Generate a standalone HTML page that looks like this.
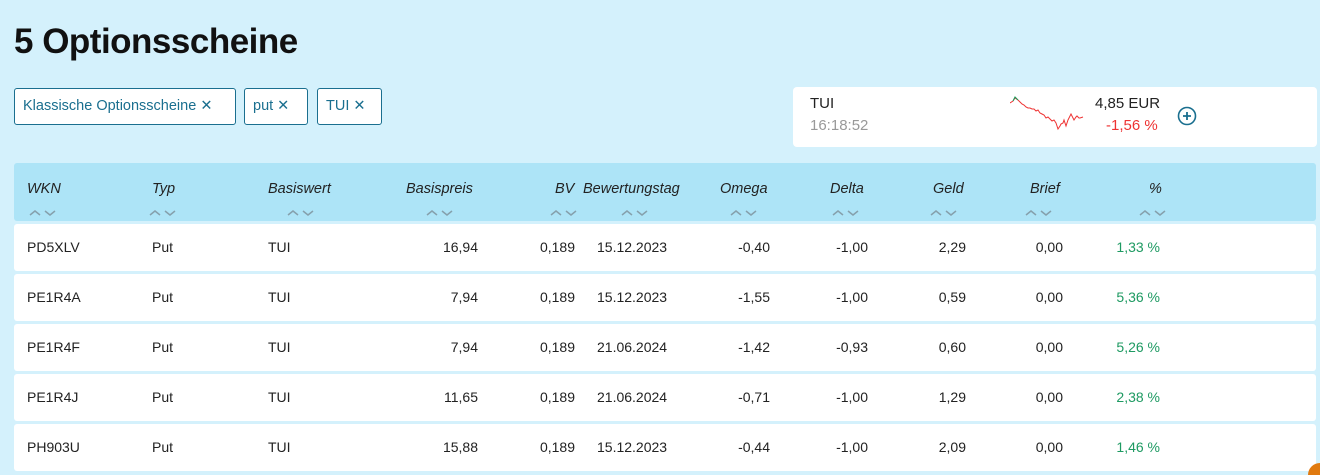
<!DOCTYPE html>
<html><head><meta charset="utf-8"><style>
*{margin:0;padding:0;box-sizing:border-box}
html,body{width:1320px;height:475px;overflow:hidden}
body{background:#d4f1fc;font-family:"Liberation Sans",sans-serif;position:relative;color:#222}
.a{position:absolute;white-space:nowrap}
h1{position:absolute;left:14px;top:22px;font-size:35px;font-weight:bold;color:#111;letter-spacing:-0.5px}
.chip{position:absolute;top:88px;height:37px;border:1px solid #1a6f8f;border-radius:3px;background:#fff;color:#1a6f8f;font-size:14.5px;line-height:35px;padding-left:8px}
.card{position:absolute;left:793px;top:87px;width:524px;height:60px;background:#fff;border-radius:4px}
.hdr{position:absolute;left:14px;top:163px;width:1302px;height:58px;background:#ade4f7;border-radius:3px}
.row{position:absolute;left:14px;width:1302px;height:47px;background:#fff;border-radius:3px}
.h{font-style:italic;font-size:14.5px;top:181px;color:#222}
.c{font-size:14px;color:#222}
.g{color:#1e9a62}
</style></head><body>
<h1>5 Optionsscheine</h1>
<div class="chip" style="left:14px;width:222px">Klassische Optionsscheine ✕</div>
<div class="chip" style="left:244px;width:64px">put ✕</div>
<div class="chip" style="left:317px;width:65px">TUI ✕</div>
<div class="card"></div>
<div class="a" style="left:810px;top:95px;font-size:15px">TUI</div>
<div class="a" style="left:810px;top:117px;font-size:15px;color:#999">16:18:52</div>
<svg class="a" style="left:1010px;top:96px" width="75" height="36" viewBox="0 0 75 36"><polyline points="0,7 3,5 5,2 8,4 10,6 12,8 14,9 16,11 18,12 20,12 22,13 24,13 26,15 28,14 30,17 32,18 34,19 36,22 38,21 40,23 42,25 44,24 46,27 48,33 50,30 51,28 53,27 54,24 56,30 58,24 60,20 61,18 63,22 64,24 66,21 67,20 69,22 70,22 73,21" fill="none" stroke="#e33" stroke-width="1"/><polyline points="3,5 5,1 8,4" fill="none" stroke="#1a9a5a" stroke-width="1"/></svg>
<div class="a" style="left:1095px;top:95px;font-size:15px">4,85 EUR</div>
<div class="a" style="left:1106px;top:117px;font-size:15px;color:#e33">-1,56 %</div>
<svg class="a" style="left:1177px;top:106px" width="20" height="20"><circle cx="10" cy="10" r="8.5" fill="none" stroke="#1a6f8f" stroke-width="1.6"/><path d="M10 6v8M6 10h8" stroke="#1a6f8f" stroke-width="1.8"/></svg>
<div class="hdr"></div>
<div class="a h" style="left:27px">WKN</div>
<div class="a h" style="left:152px">Typ</div>
<div class="a h" style="left:268px">Basiswert</div>
<div class="a h" style="left:406px">Basispreis</div>
<div class="a h" style="left:555px">BV</div>
<div class="a h" style="left:583px">Bewertungstag</div>
<div class="a h" style="left:720px">Omega</div>
<div class="a h" style="left:830px">Delta</div>
<div class="a h" style="left:933px">Geld</div>
<div class="a h" style="left:1030px">Brief</div>
<div class="a h" style="left:1149px">%</div>
<svg class="a" style="left:0;top:206px" width="1320" height="12" fill="none" stroke="#85a0ac" stroke-width="1.5">
<g id="ar"><path d="M30 9l5-4 5 4M45 5l5 4 5-4"/></g>
<use href="#ar" x="120"/><use href="#ar" x="258"/><use href="#ar" x="397"/><use href="#ar" x="521"/><use href="#ar" x="592"/><use href="#ar" x="701"/><use href="#ar" x="803"/><use href="#ar" x="901"/><use href="#ar" x="996"/><use href="#ar" x="1110"/>
</svg>
<div class="row" style="top:224px"></div>
<div class="row" style="top:274px"></div>
<div class="row" style="top:324px"></div>
<div class="row" style="top:374px"></div>
<div class="row" style="top:424px"></div>
<div class="a c" style="left:27px;top:239px">PD5XLV</div><div class="a c" style="left:152px;top:239px">Put</div><div class="a c" style="left:268px;top:239px">TUI</div><div class="a c" style="right:842px;top:239px">16,94</div><div class="a c" style="right:745px;top:239px">0,189</div><div class="a c" style="left:597px;top:239px">15.12.2023</div><div class="a c" style="right:550px;top:239px">-0,40</div><div class="a c" style="right:452px;top:239px">-1,00</div><div class="a c" style="right:354px;top:239px">2,29</div><div class="a c" style="right:257px;top:239px">0,00</div><div class="a c g" style="right:160px;top:239px">1,33 %</div>
<div class="a c" style="left:27px;top:289px">PE1R4A</div><div class="a c" style="left:152px;top:289px">Put</div><div class="a c" style="left:268px;top:289px">TUI</div><div class="a c" style="right:842px;top:289px">7,94</div><div class="a c" style="right:745px;top:289px">0,189</div><div class="a c" style="left:597px;top:289px">15.12.2023</div><div class="a c" style="right:550px;top:289px">-1,55</div><div class="a c" style="right:452px;top:289px">-1,00</div><div class="a c" style="right:354px;top:289px">0,59</div><div class="a c" style="right:257px;top:289px">0,00</div><div class="a c g" style="right:160px;top:289px">5,36 %</div>
<div class="a c" style="left:27px;top:339px">PE1R4F</div><div class="a c" style="left:152px;top:339px">Put</div><div class="a c" style="left:268px;top:339px">TUI</div><div class="a c" style="right:842px;top:339px">7,94</div><div class="a c" style="right:745px;top:339px">0,189</div><div class="a c" style="left:597px;top:339px">21.06.2024</div><div class="a c" style="right:550px;top:339px">-1,42</div><div class="a c" style="right:452px;top:339px">-0,93</div><div class="a c" style="right:354px;top:339px">0,60</div><div class="a c" style="right:257px;top:339px">0,00</div><div class="a c g" style="right:160px;top:339px">5,26 %</div>
<div class="a c" style="left:27px;top:389px">PE1R4J</div><div class="a c" style="left:152px;top:389px">Put</div><div class="a c" style="left:268px;top:389px">TUI</div><div class="a c" style="right:842px;top:389px">11,65</div><div class="a c" style="right:745px;top:389px">0,189</div><div class="a c" style="left:597px;top:389px">21.06.2024</div><div class="a c" style="right:550px;top:389px">-0,71</div><div class="a c" style="right:452px;top:389px">-1,00</div><div class="a c" style="right:354px;top:389px">1,29</div><div class="a c" style="right:257px;top:389px">0,00</div><div class="a c g" style="right:160px;top:389px">2,38 %</div>
<div class="a c" style="left:27px;top:439px">PH903U</div><div class="a c" style="left:152px;top:439px">Put</div><div class="a c" style="left:268px;top:439px">TUI</div><div class="a c" style="right:842px;top:439px">15,88</div><div class="a c" style="right:745px;top:439px">0,189</div><div class="a c" style="left:597px;top:439px">15.12.2023</div><div class="a c" style="right:550px;top:439px">-0,44</div><div class="a c" style="right:452px;top:439px">-1,00</div><div class="a c" style="right:354px;top:439px">2,09</div><div class="a c" style="right:257px;top:439px">0,00</div><div class="a c g" style="right:160px;top:439px">1,46 %</div>
<div class="a" style="left:1308px;top:463px;width:12px;height:12px;border-top-left-radius:12px;background:#e07a10"></div>
</body></html>
